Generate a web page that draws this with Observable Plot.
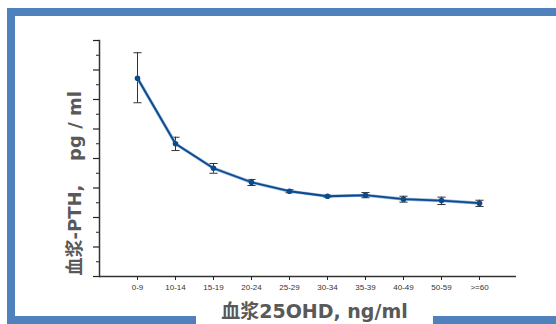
<!DOCTYPE html>
<html>
<head>
<meta charset="utf-8">
<script src="https://cdn.jsdelivr.net/npm/d3@7"></script>
<script src="https://cdn.jsdelivr.net/npm/@observablehq/plot@0.6"></script>
<style>
  html, body { margin: 0; padding: 0; background: #fff; }
  #wrap { position: relative; width: 556px; height: 324px; overflow: hidden; background: #fff; }
  #chart { position: absolute; left: 0; top: 0; }
  .bar { position: absolute; background: #4f81bd; }
  .ytitle {
    position: absolute; left: 75px;
    transform: translate(-50%, -50%) rotate(-90deg);
    white-space: pre; font: bold 18px "DejaVu Sans", "Noto Sans CJK SC", sans-serif;
    color: #595959; line-height: 1;
  }
  #xtitle {
    position: absolute; left: 196px; top: 301px; width: 237px; height: 23px;
    background: #fff; text-align: center; white-space: pre;
    font: bold 19px "DejaVu Sans", "Noto Sans CJK SC", sans-serif; color: #595959; line-height: 21px;
  }
</style>
</head>
<body>
<div id="wrap">
  <div id="chart"></div>
  <div class="bar" style="left:7px; top:8px; width:549px; height:8px;"></div>
  <div class="bar" style="left:7px; top:8px; width:8px; height:316px;"></div>
  <div class="bar" style="left:7px; top:316px; width:549px; height:8px;"></div>
  <div class="ytitle" style="top:230px;">血浆-PTH,</div>
  <div class="ytitle" style="top:126px;">pg / ml</div>
  <div id="xtitle">血浆25OHD, ng/ml</div>
</div>
<script>
const categories = ["0-9", "10-14", "15-19", "20-24", "25-29", "30-34", "35-39", "40-49", "50-59", ">=60"];
const meanPTH = [134.4, 90.0, 73.4, 63.9, 57.8, 54.4, 55.1, 52.4, 51.5, 49.7];
const upperPTH = [151.7, 94.4, 76.6, 65.8, 58.8, 55.1, 56.9, 54.4, 53.8, 51.7];
const lowerPTH = [117.8, 85.4, 70.0, 61.7, 56.8, 53.7, 53.4, 50.4, 48.8, 47.5];
const yMajorTicks = [0, 20, 40, 60, 80, 100, 120, 140, 160];
const yMinorTicks = [10, 30, 50, 70, 90, 110, 130, 150];

const data = categories.map((c, i) => ({cat: c, v: meanPTH[i], hi: upperPTH[i], lo: lowerPTH[i]}));

const capSymbol = {
  draw(ctx, size) {
    const w = Math.sqrt(size);
    ctx.moveTo(-w, 0);
    ctx.lineTo(w, 0);
  }
};

const chart = Plot.plot({
  width: 556,
  height: 324,
  marginLeft: 99,
  marginRight: 40,
  marginTop: 40,
  marginBottom: 48,
  style: {background: "transparent", fontFamily: "'Liberation Sans', Arial, sans-serif"},
  x: {type: "point", domain: categories, padding: 0.9, label: null},
  y: {domain: [0, 160], label: null},
  marks: [
    Plot.frame({anchor: "left", stroke: "#333", strokeWidth: 1.5}),
    Plot.ruleY([0], {stroke: "#333", strokeWidth: 1.5}),
    Plot.axisY({ticks: yMajorTicks, tickSize: 6, tickFormat: () => "", stroke: "#222", strokeWidth: 1.2}),
    Plot.axisY({ticks: yMinorTicks, tickSize: 3, tickFormat: () => "", stroke: "#222", strokeWidth: 1}),
    Plot.axisX({tickSize: 4, tickPadding: 4, fontSize: 8, fill: "#333", stroke: "#222"}),
    Plot.ruleX(data, {x: "cat", y1: "lo", y2: "hi", stroke: "#333", strokeWidth: 1}),
    Plot.dot(data, {x: "cat", y: "hi", symbol: capSymbol, r: 2.3, stroke: "#333", strokeWidth: 1, fill: "none"}),
    Plot.dot(data, {x: "cat", y: "lo", symbol: capSymbol, r: 2.3, stroke: "#333", strokeWidth: 1, fill: "none"}),
    Plot.line(data, {x: "cat", y: "v", stroke: "#8fb2dc", strokeWidth: 3.2}),
    Plot.line(data, {x: "cat", y: "v", stroke: "#0d4a8c", strokeWidth: 1.8}),
    Plot.dot(data, {x: "cat", y: "v", r: 2.8, fill: "#0d4a8c", stroke: "none"})
  ]
});
document.getElementById("chart").appendChild(chart);
</script>
</body>
</html>
